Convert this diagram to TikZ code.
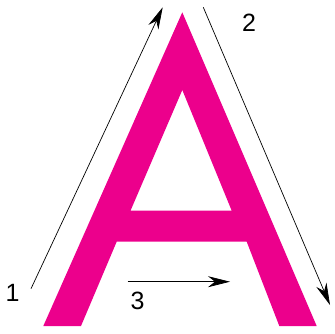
\documentclass[tikz,border=0pt]{standalone}
\usepackage{fontspec}
\setmainfont{Liberation Sans}
\usetikzlibrary{arrows.meta}
\definecolor{amag}{RGB}{236,0,140}
\begin{document}
\begin{tikzpicture}[x=1pt,y=-1pt,
  arr/.style={line width=0.7pt,-{Stealth[length=22pt,width=11pt,inset=7pt]}},
  lbl/.style={font=\fontsize{25}{25}\selectfont,inner sep=0pt,anchor=center}]
\useasboundingbox (0,0) rectangle (334,334);
% letter A
\fill[amag,even odd rule]
  (182.3,12.3) -- (316.7,326) -- (279.3,326) -- (246.7,241.7) -- (116.7,241.7)
  -- (81,326) -- (43.3,326) -- cycle
  (182.3,90) -- (231.7,210.7) -- (130.5,210.7) -- cycle;
% arrow end points
\coordinate (a1s) at (31,288.7);
\coordinate (a1e) at (162.7,7.3);
\coordinate (a2s) at (203.3,7.3);
\coordinate (a2e) at (330,305);
\coordinate (a3s) at (127.7,281.7);
\coordinate (a3e) at (230,281.7);
\draw[arr] (a1s) -- (a1e);
\draw[arr] (a2s) -- (a2e);
\draw[arr] (a3s) -- (a3e);
% labels
\node[lbl] (l1) at (12.5,292.5) {1};
\node[lbl] (l2) at (249,23) {2};
\node[lbl] (l3) at (137.5,300.5) {3};
\end{tikzpicture}
\end{document}
